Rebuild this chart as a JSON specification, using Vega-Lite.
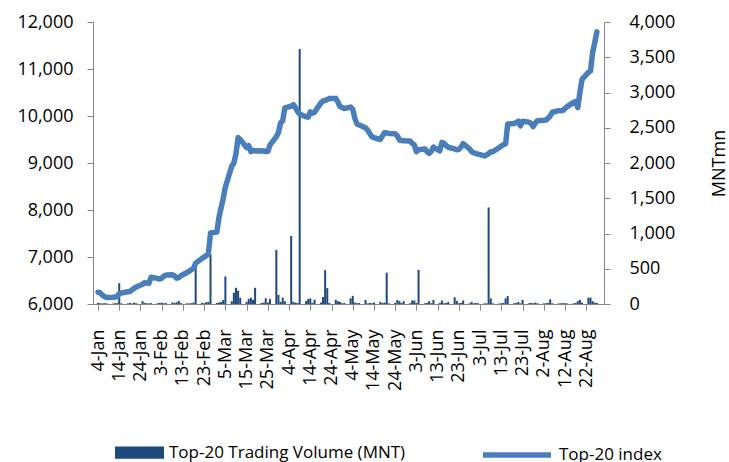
{
  "$schema": "https://vega.github.io/schema/vega-lite/v6.json",
  "width": 511,
  "height": 282,
  "autosize": {"type": "none"},
  "padding": {"left": 93, "top": 22, "right": 125, "bottom": 158},
  "config": {
    "font": "Open Sans",
    "view": {"stroke": null},
    "axis": {"labelColor": "#000000", "labelFontSize": 18, "domainColor": "#868686", "tickColor": "#868686", "tickSize": 6, "grid": false, "labelFlush": false, "labelOverlap": false, "labelBound": false},
    "legend": {"labelColor": "#000000", "labelFontSize": 17, "padding": 0, "labelOffset": 5, "labelLimit": 400}
  },
  "data": {"values": [
    {"date": "2010-01-04T00:00:00", "idx": 6250, "vol": 15},
    {"date": "2010-01-05T00:00:00", "idx": 6240, "vol": 10},
    {"date": "2010-01-06T00:00:00", "idx": 6190, "vol": 8},
    {"date": "2010-01-07T00:00:00", "idx": 6160, "vol": 12},
    {"date": "2010-01-08T00:00:00", "idx": 6140, "vol": 10},
    {"date": "2010-01-11T00:00:00", "idx": 6145, "vol": 6},
    {"date": "2010-01-12T00:00:00", "idx": 6150, "vol": 10},
    {"date": "2010-01-13T00:00:00", "idx": 6155, "vol": 12},
    {"date": "2010-01-14T00:00:00", "idx": 6220, "vol": 295},
    {"date": "2010-01-15T00:00:00", "idx": 6235, "vol": 10},
    {"date": "2010-01-18T00:00:00", "idx": 6260, "vol": 8},
    {"date": "2010-01-19T00:00:00", "idx": 6265, "vol": 15},
    {"date": "2010-01-20T00:00:00", "idx": 6300, "vol": 6},
    {"date": "2010-01-21T00:00:00", "idx": 6335, "vol": 20},
    {"date": "2010-01-22T00:00:00", "idx": 6360, "vol": 10},
    {"date": "2010-01-25T00:00:00", "idx": 6420, "vol": 40},
    {"date": "2010-01-26T00:00:00", "idx": 6455, "vol": 15},
    {"date": "2010-01-27T00:00:00", "idx": 6445, "vol": 10},
    {"date": "2010-01-28T00:00:00", "idx": 6440, "vol": 8},
    {"date": "2010-01-29T00:00:00", "idx": 6570, "vol": 12},
    {"date": "2010-02-01T00:00:00", "idx": 6545, "vol": 10},
    {"date": "2010-02-02T00:00:00", "idx": 6530, "vol": 15},
    {"date": "2010-02-03T00:00:00", "idx": 6550, "vol": 20},
    {"date": "2010-02-04T00:00:00", "idx": 6590, "vol": 10},
    {"date": "2010-02-05T00:00:00", "idx": 6615, "vol": 12},
    {"date": "2010-02-08T00:00:00", "idx": 6620, "vol": 20},
    {"date": "2010-02-09T00:00:00", "idx": 6600, "vol": 15},
    {"date": "2010-02-10T00:00:00", "idx": 6550, "vol": 25},
    {"date": "2010-02-11T00:00:00", "idx": 6560, "vol": 45},
    {"date": "2010-02-12T00:00:00", "idx": 6600, "vol": 15},
    {"date": "2010-02-15T00:00:00", "idx": 6670, "vol": 10},
    {"date": "2010-02-16T00:00:00", "idx": 6700, "vol": 8},
    {"date": "2010-02-17T00:00:00", "idx": 6730, "vol": 12},
    {"date": "2010-02-18T00:00:00", "idx": 6760, "vol": 20},
    {"date": "2010-02-19T00:00:00", "idx": 6870, "vol": 600},
    {"date": "2010-02-22T00:00:00", "idx": 6970, "vol": 15},
    {"date": "2010-02-23T00:00:00", "idx": 7000, "vol": 10},
    {"date": "2010-02-24T00:00:00", "idx": 7030, "vol": 25},
    {"date": "2010-02-25T00:00:00", "idx": 7070, "vol": 30},
    {"date": "2010-02-26T00:00:00", "idx": 7510, "vol": 700},
    {"date": "2010-03-01T00:00:00", "idx": 7530, "vol": 15},
    {"date": "2010-03-02T00:00:00", "idx": 7850, "vol": 20},
    {"date": "2010-03-03T00:00:00", "idx": 8050, "vol": 30},
    {"date": "2010-03-04T00:00:00", "idx": 8250, "vol": 57},
    {"date": "2010-03-05T00:00:00", "idx": 8490, "vol": 390},
    {"date": "2010-03-08T00:00:00", "idx": 8930, "vol": 40},
    {"date": "2010-03-09T00:00:00", "idx": 9000, "vol": 160},
    {"date": "2010-03-10T00:00:00", "idx": 9200, "vol": 230},
    {"date": "2010-03-11T00:00:00", "idx": 9540, "vol": 190},
    {"date": "2010-03-12T00:00:00", "idx": 9500, "vol": 90},
    {"date": "2010-03-15T00:00:00", "idx": 9330, "vol": 30},
    {"date": "2010-03-16T00:00:00", "idx": 9370, "vol": 70},
    {"date": "2010-03-17T00:00:00", "idx": 9240, "vol": 90},
    {"date": "2010-03-18T00:00:00", "idx": 9270, "vol": 60},
    {"date": "2010-03-19T00:00:00", "idx": 9255, "vol": 230},
    {"date": "2010-03-22T00:00:00", "idx": 9260, "vol": 15},
    {"date": "2010-03-23T00:00:00", "idx": 9255, "vol": 20},
    {"date": "2010-03-24T00:00:00", "idx": 9245, "vol": 80},
    {"date": "2010-03-25T00:00:00", "idx": 9250, "vol": 20},
    {"date": "2010-03-26T00:00:00", "idx": 9380, "vol": 70},
    {"date": "2010-03-29T00:00:00", "idx": 9560, "vol": 766},
    {"date": "2010-03-30T00:00:00", "idx": 9650, "vol": 130},
    {"date": "2010-03-31T00:00:00", "idx": 9850, "vol": 30},
    {"date": "2010-04-01T00:00:00", "idx": 9900, "vol": 90},
    {"date": "2010-04-02T00:00:00", "idx": 10170, "vol": 40},
    {"date": "2010-04-05T00:00:00", "idx": 10210, "vol": 965},
    {"date": "2010-04-06T00:00:00", "idx": 10240, "vol": 30},
    {"date": "2010-04-07T00:00:00", "idx": 10180, "vol": 20},
    {"date": "2010-04-08T00:00:00", "idx": 10100, "vol": 15},
    {"date": "2010-04-09T00:00:00", "idx": 10040, "vol": 3617},
    {"date": "2010-04-12T00:00:00", "idx": 9985, "vol": 40},
    {"date": "2010-04-13T00:00:00", "idx": 9975, "vol": 70},
    {"date": "2010-04-14T00:00:00", "idx": 10090, "vol": 80},
    {"date": "2010-04-15T00:00:00", "idx": 10060, "vol": 15},
    {"date": "2010-04-16T00:00:00", "idx": 10080, "vol": 60},
    {"date": "2010-04-19T00:00:00", "idx": 10280, "vol": 20},
    {"date": "2010-04-20T00:00:00", "idx": 10320, "vol": 100},
    {"date": "2010-04-21T00:00:00", "idx": 10330, "vol": 480},
    {"date": "2010-04-22T00:00:00", "idx": 10350, "vol": 225},
    {"date": "2010-04-23T00:00:00", "idx": 10370, "vol": 15},
    {"date": "2010-04-26T00:00:00", "idx": 10375, "vol": 60},
    {"date": "2010-04-27T00:00:00", "idx": 10300, "vol": 40},
    {"date": "2010-04-28T00:00:00", "idx": 10200, "vol": 30},
    {"date": "2010-04-29T00:00:00", "idx": 10180, "vol": 10},
    {"date": "2010-04-30T00:00:00", "idx": 10160, "vol": 15},
    {"date": "2010-05-03T00:00:00", "idx": 10190, "vol": 80},
    {"date": "2010-05-04T00:00:00", "idx": 10140, "vol": 115},
    {"date": "2010-05-05T00:00:00", "idx": 9950, "vol": 20},
    {"date": "2010-05-06T00:00:00", "idx": 9830, "vol": 10},
    {"date": "2010-05-07T00:00:00", "idx": 9810, "vol": 15},
    {"date": "2010-05-10T00:00:00", "idx": 9750, "vol": 57},
    {"date": "2010-05-11T00:00:00", "idx": 9700, "vol": 10},
    {"date": "2010-05-12T00:00:00", "idx": 9630, "vol": 15},
    {"date": "2010-05-13T00:00:00", "idx": 9560, "vol": 10},
    {"date": "2010-05-14T00:00:00", "idx": 9540, "vol": 20},
    {"date": "2010-05-17T00:00:00", "idx": 9500, "vol": 30},
    {"date": "2010-05-18T00:00:00", "idx": 9580, "vol": 15},
    {"date": "2010-05-19T00:00:00", "idx": 9645, "vol": 20},
    {"date": "2010-05-20T00:00:00", "idx": 9640, "vol": 444},
    {"date": "2010-05-21T00:00:00", "idx": 9630, "vol": 10},
    {"date": "2010-05-24T00:00:00", "idx": 9620, "vol": 15},
    {"date": "2010-05-25T00:00:00", "idx": 9580, "vol": 57},
    {"date": "2010-05-26T00:00:00", "idx": 9490, "vol": 40},
    {"date": "2010-05-27T00:00:00", "idx": 9480, "vol": 15},
    {"date": "2010-05-28T00:00:00", "idx": 9475, "vol": 40},
    {"date": "2010-05-31T00:00:00", "idx": 9468, "vol": 10},
    {"date": "2010-06-01T00:00:00", "idx": 9420, "vol": 50},
    {"date": "2010-06-02T00:00:00", "idx": 9385, "vol": 50},
    {"date": "2010-06-03T00:00:00", "idx": 9240, "vol": 15},
    {"date": "2010-06-04T00:00:00", "idx": 9280, "vol": 482},
    {"date": "2010-06-07T00:00:00", "idx": 9300, "vol": 10},
    {"date": "2010-06-08T00:00:00", "idx": 9240, "vol": 15},
    {"date": "2010-06-09T00:00:00", "idx": 9206, "vol": 40},
    {"date": "2010-06-10T00:00:00", "idx": 9250, "vol": 10},
    {"date": "2010-06-11T00:00:00", "idx": 9340, "vol": 57},
    {"date": "2010-06-14T00:00:00", "idx": 9260, "vol": 15},
    {"date": "2010-06-15T00:00:00", "idx": 9440, "vol": 50},
    {"date": "2010-06-16T00:00:00", "idx": 9420, "vol": 10},
    {"date": "2010-06-17T00:00:00", "idx": 9370, "vol": 15},
    {"date": "2010-06-18T00:00:00", "idx": 9335, "vol": 30},
    {"date": "2010-06-21T00:00:00", "idx": 9300, "vol": 95},
    {"date": "2010-06-22T00:00:00", "idx": 9280, "vol": 45},
    {"date": "2010-06-23T00:00:00", "idx": 9290, "vol": 10},
    {"date": "2010-06-24T00:00:00", "idx": 9340, "vol": 15},
    {"date": "2010-06-25T00:00:00", "idx": 9410, "vol": 50},
    {"date": "2010-06-28T00:00:00", "idx": 9300, "vol": 10},
    {"date": "2010-06-29T00:00:00", "idx": 9240, "vol": 30},
    {"date": "2010-06-30T00:00:00", "idx": 9220, "vol": 10},
    {"date": "2010-07-01T00:00:00", "idx": 9200, "vol": 15},
    {"date": "2010-07-02T00:00:00", "idx": 9190, "vol": 10},
    {"date": "2010-07-05T00:00:00", "idx": 9150, "vol": 8},
    {"date": "2010-07-06T00:00:00", "idx": 9170, "vol": 10},
    {"date": "2010-07-07T00:00:00", "idx": 9200, "vol": 1370},
    {"date": "2010-07-08T00:00:00", "idx": 9240, "vol": 80},
    {"date": "2010-07-09T00:00:00", "idx": 9240, "vol": 10},
    {"date": "2010-07-12T00:00:00", "idx": 9330, "vol": 8},
    {"date": "2010-07-13T00:00:00", "idx": 9360, "vol": 10},
    {"date": "2010-07-14T00:00:00", "idx": 9390, "vol": 15},
    {"date": "2010-07-15T00:00:00", "idx": 9410, "vol": 80},
    {"date": "2010-07-16T00:00:00", "idx": 9830, "vol": 113},
    {"date": "2010-07-19T00:00:00", "idx": 9840, "vol": 10},
    {"date": "2010-07-20T00:00:00", "idx": 9860, "vol": 15},
    {"date": "2010-07-21T00:00:00", "idx": 9890, "vol": 30},
    {"date": "2010-07-22T00:00:00", "idx": 9790, "vol": 10},
    {"date": "2010-07-23T00:00:00", "idx": 9890, "vol": 57},
    {"date": "2010-07-26T00:00:00", "idx": 9870, "vol": 10},
    {"date": "2010-07-27T00:00:00", "idx": 9840, "vol": 15},
    {"date": "2010-07-28T00:00:00", "idx": 9775, "vol": 10},
    {"date": "2010-07-29T00:00:00", "idx": 9850, "vol": 20},
    {"date": "2010-07-30T00:00:00", "idx": 9900, "vol": 10},
    {"date": "2010-08-02T00:00:00", "idx": 9910, "vol": 8},
    {"date": "2010-08-03T00:00:00", "idx": 9915, "vol": 10},
    {"date": "2010-08-04T00:00:00", "idx": 9950, "vol": 15},
    {"date": "2010-08-05T00:00:00", "idx": 10000, "vol": 66},
    {"date": "2010-08-06T00:00:00", "idx": 10080, "vol": 10},
    {"date": "2010-08-09T00:00:00", "idx": 10113, "vol": 8},
    {"date": "2010-08-10T00:00:00", "idx": 10110, "vol": 10},
    {"date": "2010-08-11T00:00:00", "idx": 10120, "vol": 12},
    {"date": "2010-08-12T00:00:00", "idx": 10160, "vol": 10},
    {"date": "2010-08-13T00:00:00", "idx": 10200, "vol": 8},
    {"date": "2010-08-16T00:00:00", "idx": 10290, "vol": 10},
    {"date": "2010-08-17T00:00:00", "idx": 10305, "vol": 15},
    {"date": "2010-08-18T00:00:00", "idx": 10180, "vol": 40},
    {"date": "2010-08-19T00:00:00", "idx": 10500, "vol": 57},
    {"date": "2010-08-20T00:00:00", "idx": 10780, "vol": 20},
    {"date": "2010-08-23T00:00:00", "idx": 10930, "vol": 90},
    {"date": "2010-08-24T00:00:00", "idx": 10960, "vol": 90},
    {"date": "2010-08-25T00:00:00", "idx": 11350, "vol": 40},
    {"date": "2010-08-26T00:00:00", "idx": 11560, "vol": 20},
    {"date": "2010-08-27T00:00:00", "idx": 11790, "vol": 15}
  ]},
  "encoding": {
    "x": {
      "field": "date", "type": "temporal",
      "scale": {"domain": [{"year": 2010, "month": 1, "date": 4}, {"year": 2010, "month": 8, "date": 28}]},
      "axis": {
        "title": null, "format": "%-d-%b", "labelAngle": -90, "labelPadding": 19,
        "values": [
          {"year": 2010, "month": 1, "date": 4}, {"year": 2010, "month": 1, "date": 14}, {"year": 2010, "month": 1, "date": 24},
          {"year": 2010, "month": 2, "date": 3}, {"year": 2010, "month": 2, "date": 13}, {"year": 2010, "month": 2, "date": 23},
          {"year": 2010, "month": 3, "date": 5}, {"year": 2010, "month": 3, "date": 15}, {"year": 2010, "month": 3, "date": 25},
          {"year": 2010, "month": 4, "date": 4}, {"year": 2010, "month": 4, "date": 14}, {"year": 2010, "month": 4, "date": 24},
          {"year": 2010, "month": 5, "date": 4}, {"year": 2010, "month": 5, "date": 14}, {"year": 2010, "month": 5, "date": 24},
          {"year": 2010, "month": 6, "date": 3}, {"year": 2010, "month": 6, "date": 13}, {"year": 2010, "month": 6, "date": 23},
          {"year": 2010, "month": 7, "date": 3}, {"year": 2010, "month": 7, "date": 13}, {"year": 2010, "month": 7, "date": 23},
          {"year": 2010, "month": 8, "date": 2}, {"year": 2010, "month": 8, "date": 12}, {"year": 2010, "month": 8, "date": 22}
        ]
      }
    }
  },
  "layer": [
    {
      "mark": {"type": "bar", "width": 2, "clip": true},
      "encoding": {
        "y": {
          "field": "vol", "type": "quantitative",
          "scale": {"domain": [0, 4000], "nice": false, "zero": true},
          "axis": {"orient": "right", "title": "MNTmn", "format": ",.0f", "values": [0, 500, 1000, 1500, 2000, 2500, 3000, 3500, 4000], "labelPadding": 19, "titleFontSize": 18, "titleFontWeight": "normal", "titleColor": "#000000", "titleAngle": 270, "titleX": 115, "titleY": 141, "titleAlign": "center", "titleBaseline": "middle"}
        },
        "fill": {
          "datum": "Top-20 Trading Volume (MNT)",
          "scale": {"range": ["#1f497d"]},
          "legend": {"title": null, "orient": "none", "legendX": 22, "legendY": 406, "symbolType": "M-1,-0.25H1V0.25H-1Z", "symbolSize": 2401, "symbolStrokeWidth": 0, "symbolOpacity": 1, "symbolFillColor": "#1f497d"}
        }
      }
    },
    {
      "mark": {"type": "line", "strokeWidth": 5.5, "strokeJoin": "round", "strokeCap": "round", "clip": true},
      "encoding": {
        "y": {
          "field": "idx", "type": "quantitative",
          "scale": {"domain": [6000, 12000], "nice": false, "zero": false},
          "axis": {"orient": "left", "title": null, "format": ",.0f", "values": [6000, 7000, 8000, 9000, 10000, 11000, 12000], "labelPadding": 14}
        },
        "stroke": {
          "datum": "Top-20 index",
          "scale": {"range": ["#4a7ebb"]},
          "legend": {"title": null, "orient": "none", "legendX": 387, "legendY": 396, "symbolType": "stroke", "symbolSize": 4624, "symbolStrokeWidth": 5.5}
        }
      }
    }
  ],
  "resolve": {"scale": {"y": "independent"}, "axis": {"y": "independent"}}
}
